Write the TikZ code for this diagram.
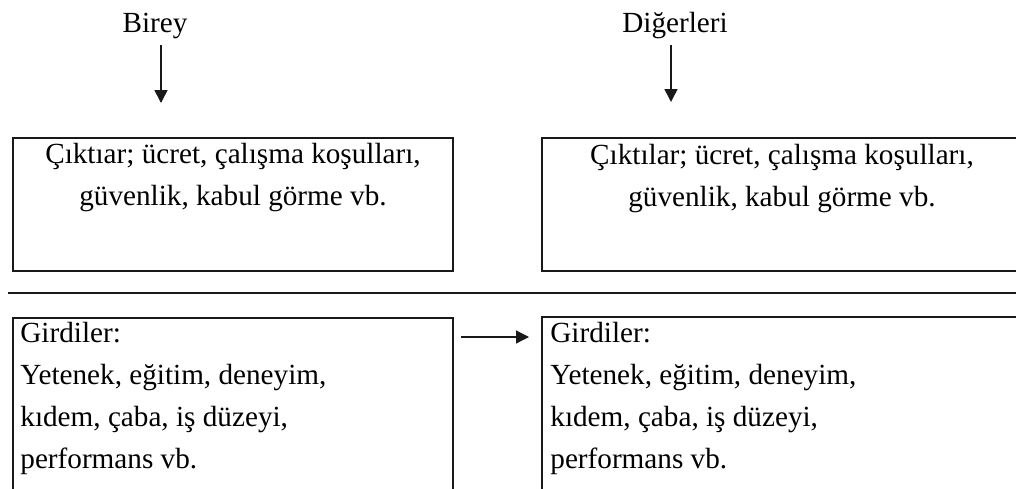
\documentclass[tikz,border=0pt]{standalone}
\usepackage{fontspec}
\setmainfont{Liberation Serif}
\usetikzlibrary{arrows.meta,positioning}

\begin{document}
\begin{tikzpicture}[
    txt/.style    = {inner sep=0pt, font=\fontsize{14.6}{21}\selectfont},
    frame/.style  = {rectangle, draw=black!90, line width=1pt,
                     inner sep=0pt},
    open/.style   = {rectangle, inner sep=0pt, outer sep=0pt},
    outbox/.style = {minimum height=66.5pt},
    inbox/.style  = {minimum height=90pt},
    arr/.style    = {-{Triangle[length=6.5pt, width=6.5pt]},
                     line width=0.8pt, black!90},
    sep/.style    = {line width=1pt, black!90},
]
\useasboundingbox (0,0) rectangle (508pt,-244pt);

% ─── Heads ───────────────────────────────────────────────────────────────
\node[txt, anchor=base] (birey) at (77.5pt,-16pt) {Birey};
\node[txt, anchor=base] (diger) at (337.5pt,-16pt) {Diğerleri};

% ─── Outputs ─────────────────────────────────────────────────────────────
\node[frame, outbox, minimum width=220pt, anchor=north west] (out1)
    at (6pt,-68.5pt) {};
\node[open, outbox, minimum width=238pt, right=44pt of out1] (out2) {};
\draw[sep] (out2.north east) -- (out2.north west)
    -- (out2.south west) -- (out2.south east);

\node[txt, align=center, anchor=north, yshift=-3pt] (out1_txt)
    at (out1.north)
    {Çıktıar; ücret, çalışma koşulları,\\ güvenlik, kabul görme vb.};
\node[txt, align=center, anchor=north, xshift=120pt, yshift=-3pt]
    (out2_txt) at (out2.north west)
    {Çıktılar; ücret, çalışma koşulları,\\ güvenlik, kabul görme vb.};

\coordinate (b_tip) at (80.5pt,-51.5pt);
\coordinate (d_tip) at (335.5pt,-51pt);
\draw[arr, shorten <=3.3pt] (birey.south -| b_tip) -- (b_tip);
\draw[arr, shorten <=3.3pt] (diger.south -| d_tip) -- (d_tip);

% ─── Separator ───────────────────────────────────────────────────────────
\coordinate (sep_l) at (4pt,-146.5pt);
\coordinate (sep_r) at (508pt,-146.5pt);
\draw[sep] (sep_l) -- (sep_r);

% ─── Inputs ──────────────────────────────────────────────────────────────
\node[frame, inbox, minimum width=220pt, below=22.5pt of out1] (in1) {};
\node[open, inbox, minimum width=238pt, anchor=north west] (in2)
    at ([yshift=-23pt]out2.south west) {};
\draw[sep] (in2.north east) -- (in2.north west) -- (in2.south west);

\node[txt, align=left, anchor=north west, xshift=4pt, yshift=-2.5pt]
    (in1_txt) at (in1.north west)
    {Girdiler:\\ Yetenek, eğitim, deneyim,\\ kıdem, çaba, iş düzeyi,\\
     performans vb.};
\node[txt, align=left, anchor=north west, xshift=4pt, yshift=-2.5pt]
    (in2_txt) at (in2.north west)
    {Girdiler:\\ Yetenek, eğitim, deneyim,\\ kıdem, çaba, iş düzeyi,\\
     performans vb.};

\coordinate (in_y) at (0,-168.5pt);
\draw[arr, line width=0.6pt, shorten <=3.5pt, shorten >=6.5pt]
    (in1.east |- in_y) -- (in2.west |- in_y);

\end{tikzpicture}
\end{document}
